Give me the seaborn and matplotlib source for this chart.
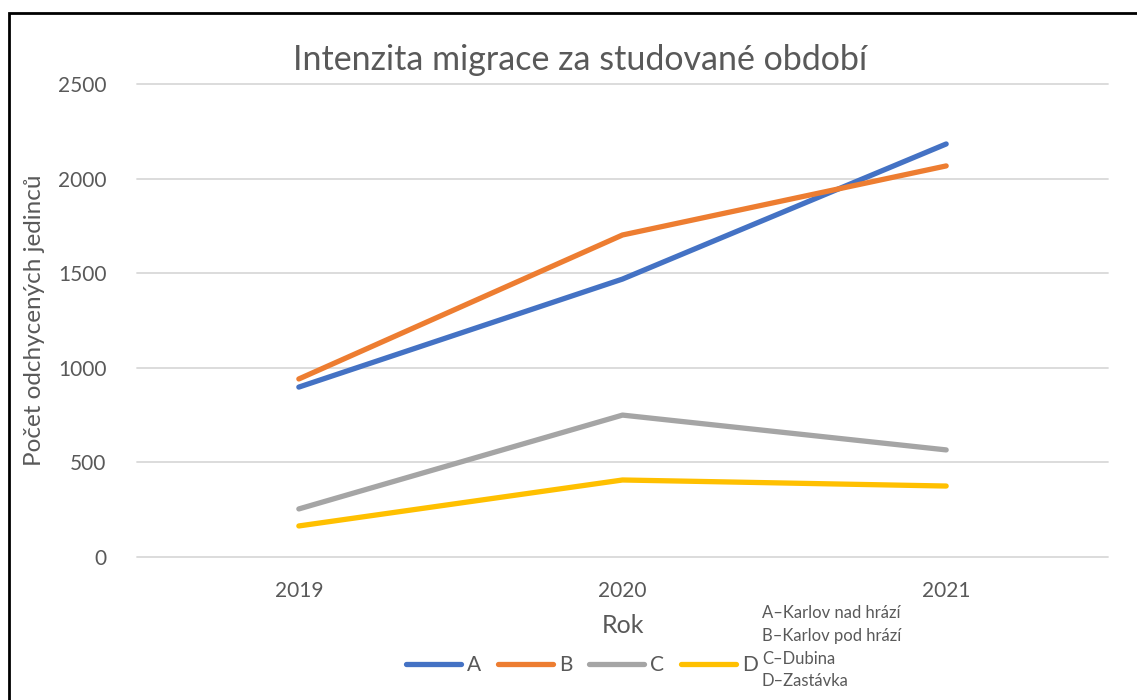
import matplotlib
matplotlib.use("Agg")
import matplotlib.pyplot as plt
import pandas as pd
import seaborn as sns
from matplotlib.patches import Rectangle

# data
years = ["2019", "2020", "2021"]
site_a = [898, 1469, 2183]
site_b = [941, 1702, 2067]
site_c = [254, 750, 566]
site_d = [164, 407, 375]
sites = ["A", "B", "C", "D"]
colors = ["#4472C4", "#ED7D31", "#A5A5A5", "#FFC000"]
note = ["A\u2013Karlov nad hrází", "B\u2013Karlov pod hrází", "C\u2013Dubina", "D\u2013Zastávka"]

df = pd.DataFrame({
    "rok": years * 4,
    "pocet": site_a + site_b + site_c + site_d,
    "lokalita": [s for s in sites for _ in years],
})

sns.set_style("white")
plt.rcParams["font.family"] = ["Lato", "DejaVu Sans"]
grey = "#595959"

fig = plt.figure(figsize=(11.37, 7), dpi=100)
ax = fig.add_axes([0.1205, 0.2043, 0.854, 0.6757])

sns.lineplot(data=df, x="rok", y="pocet", hue="lokalita", palette=colors,
             linewidth=3.8, ax=ax, legend=False, sort=False)
for ln in ax.lines:
    ln.set_solid_capstyle("round")
    ln.set_solid_joinstyle("round")

ax.set_xlim(-0.5, 2.5)
ax.set_ylim(0, 2500)
ax.set_yticks([0, 500, 1000, 1500, 2000, 2500])
ax.yaxis.grid(True, color="#D9D9D9", linewidth=1.3)
ax.set_axisbelow(True)
for gl in ax.get_ygridlines():
    gl.set_clip_on(False)
for sp in ax.spines.values():
    sp.set_visible(False)
ax.tick_params(axis="both", length=0, labelsize=15, colors=grey)
ax.tick_params(axis="y", pad=22)
ax.tick_params(axis="x", pad=17)

ax.set_title("Intenzita migrace za studované období", fontsize=24.5, color=grey,
             x=0.456, pad=10)
ax.set_xlabel("Rok", fontsize=18, color=grey, labelpad=10)
ax.set_ylabel("Počet odchycených jedinců", fontsize=17.5, color=grey, labelpad=9)

handles = [plt.Line2D([], [], color=c, linewidth=3.8, solid_capstyle="round") for c in colors]
fig.legend(handles, sites, loc="center", bbox_to_anchor=(0.512, 0.05), ncol=4,
           frameon=False, fontsize=15, labelcolor=grey, handlelength=2.64,
           handletextpad=0.29, columnspacing=0.8)

fig.text(0.670, 0.135, "\n".join(note), fontsize=12, color=grey,
         va="top", ha="left", linespacing=1.5)

fig.patches.append(Rectangle((0.008, -0.01), 1.0, 0.992, transform=fig.transFigure,
                             fill=False, edgecolor="black", linewidth=2))

fig.savefig("out.png", dpi=100)
